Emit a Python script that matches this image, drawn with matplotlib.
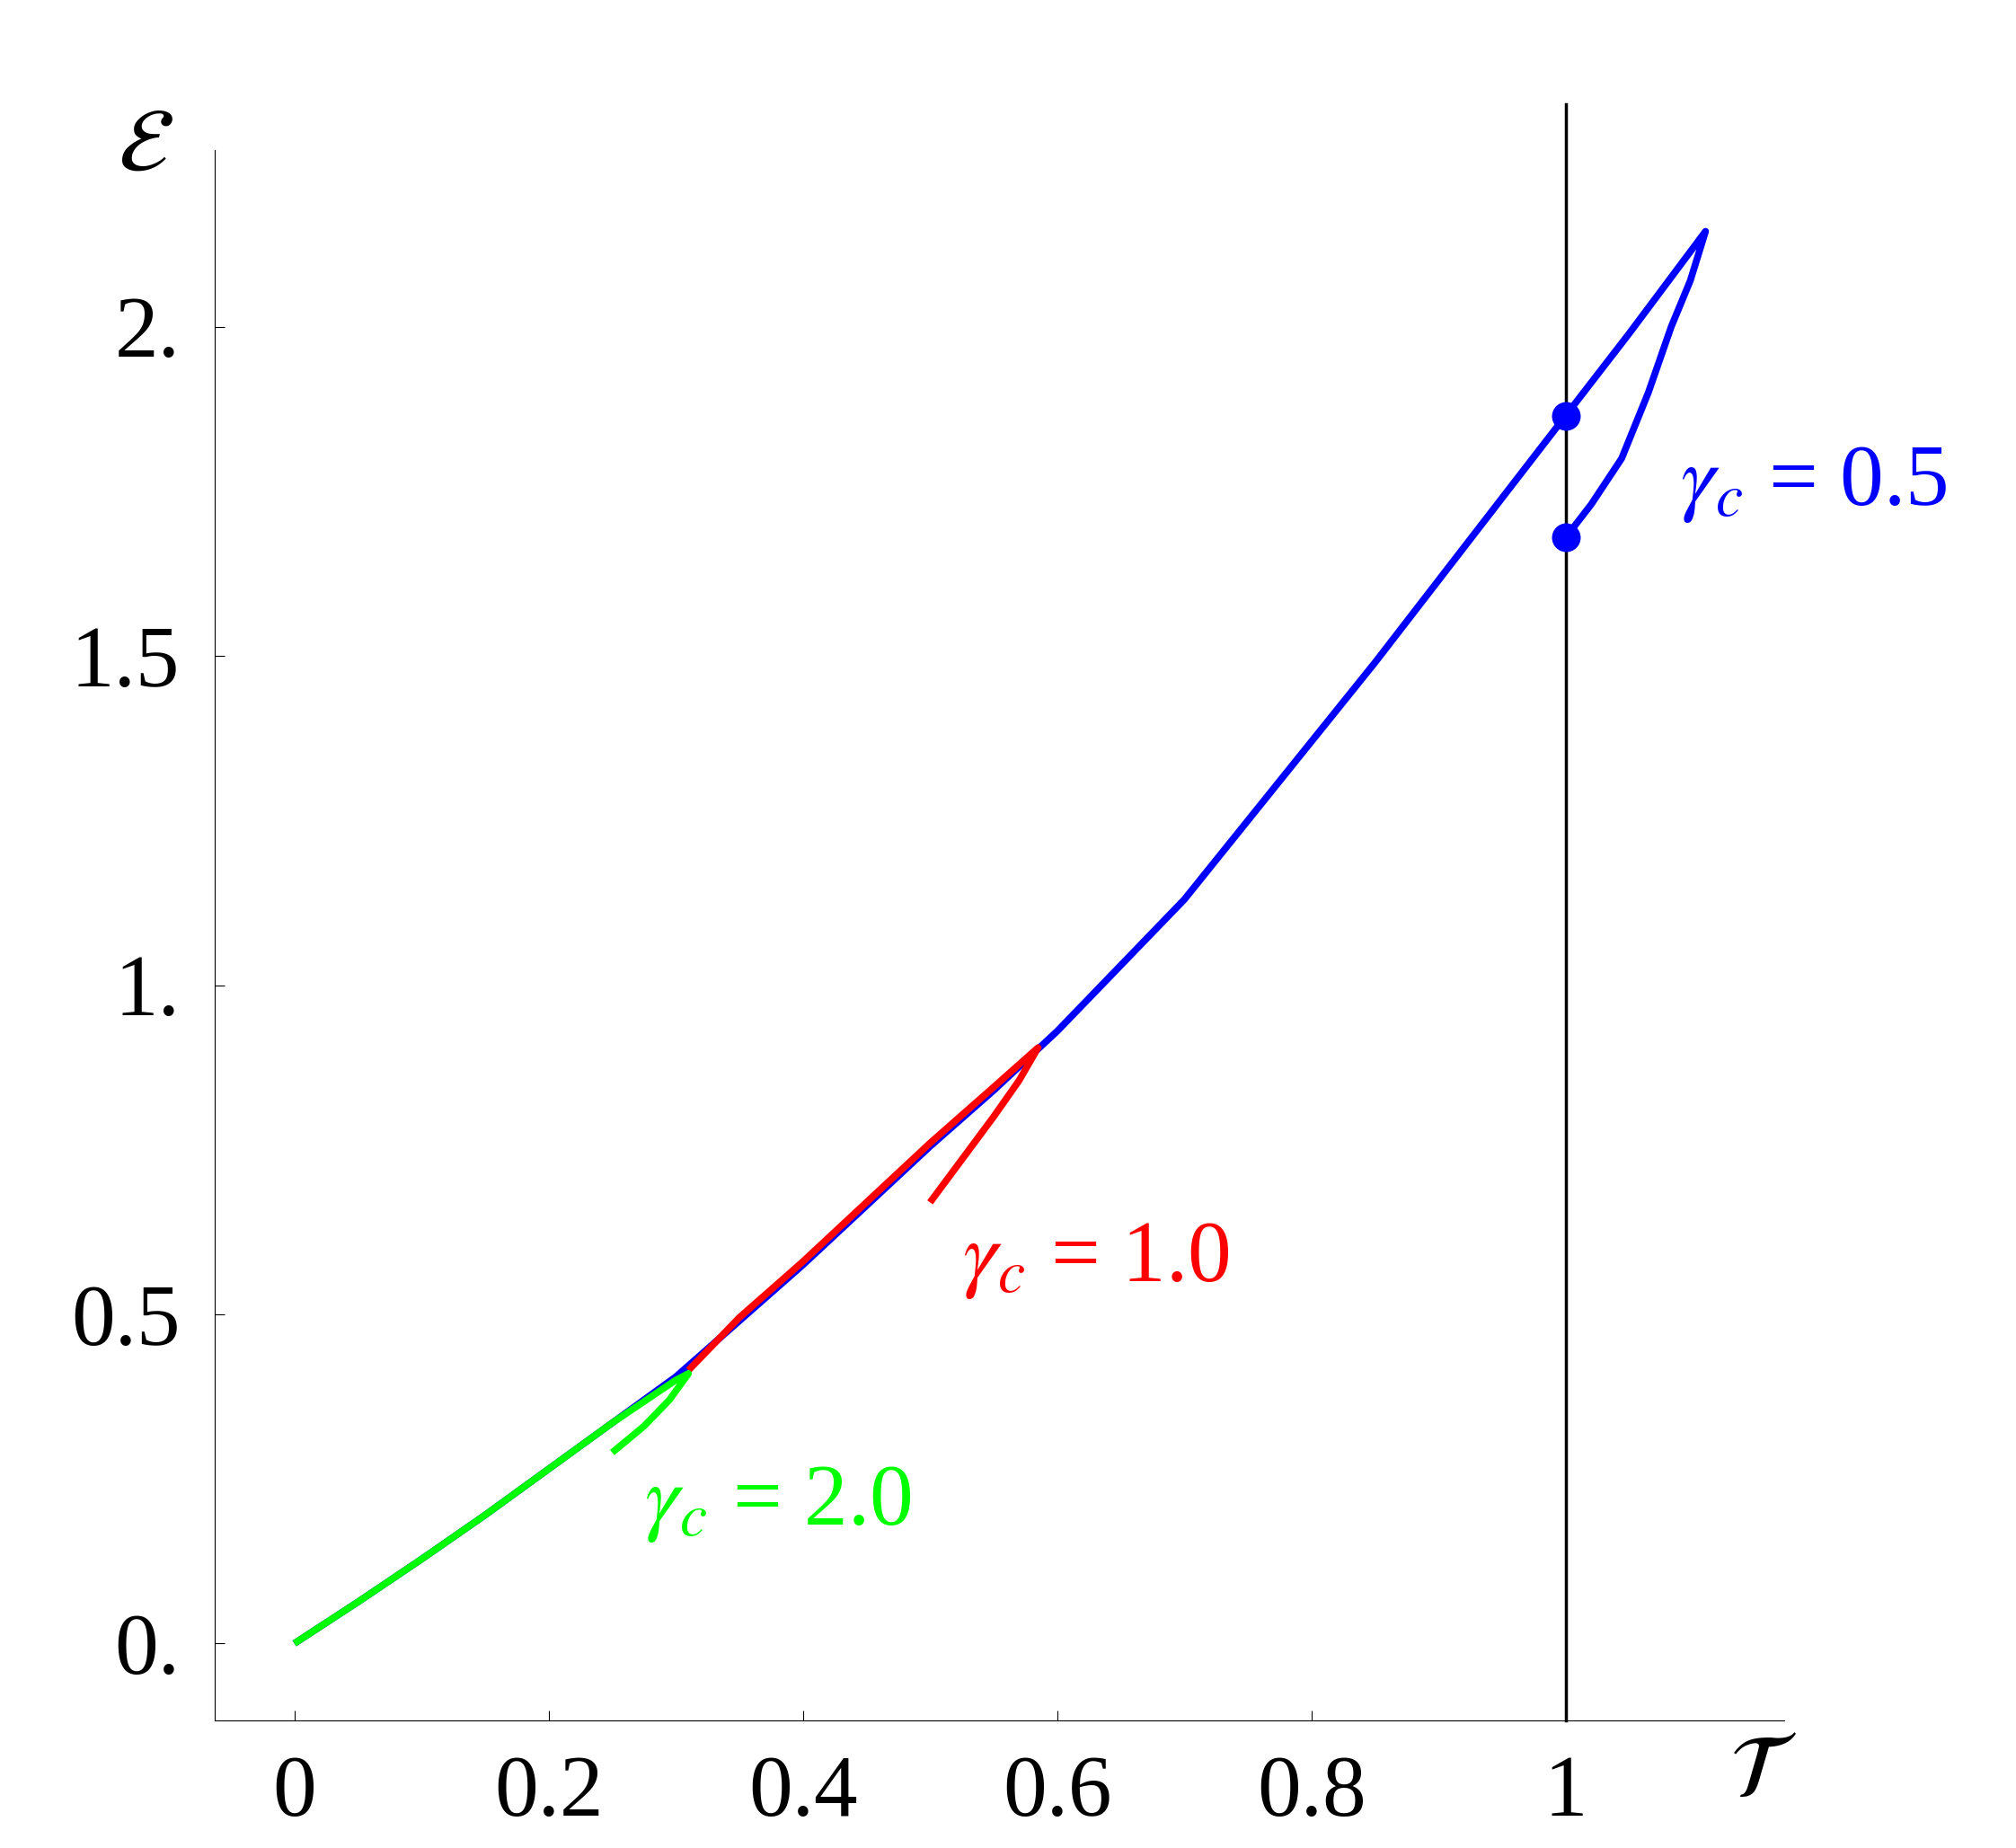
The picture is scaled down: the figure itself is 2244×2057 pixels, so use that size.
import matplotlib
matplotlib.use("Agg")
import matplotlib.pyplot as plt

plt.rcParams['mathtext.fontset'] = 'stix'
plt.rcParams['font.family'] = ['Liberation Serif', 'DejaVu Serif']

# upper branch (shared) and lower branches
blue_T = [0, 0.05, 0.1, 0.15, 0.2, 0.25, 0.3, 0.35, 0.4, 0.45, 0.5, 0.55, 0.6, 0.65, 0.7, 0.75,
          0.8, 0.85, 0.9, 0.95, 1.0, 1.05, 1.11, 1.098, 1.083, 1.065, 1.044, 1.02, 1.0]
blue_E = [0, 0.063, 0.128, 0.195, 0.265, 0.335, 0.405, 0.49, 0.575, 0.665, 0.755, 0.84, 0.93, 1.03,
          1.13, 1.25, 1.37, 1.49, 1.615, 1.74, 1.865, 1.99, 2.145, 2.07, 2.0, 1.9, 1.8, 1.73, 1.68]
red_T = [0.31, 0.35, 0.4, 0.45, 0.5, 0.55, 0.585, 0.57, 0.55, 0.525, 0.5]
red_E = [0.415, 0.495, 0.58, 0.67, 0.76, 0.845, 0.905, 0.855, 0.80, 0.735, 0.67]
green_T = [0, 0.05, 0.1, 0.15, 0.2, 0.25, 0.3, 0.31, 0.295, 0.275, 0.25]
green_E = [0, 0.063, 0.128, 0.195, 0.265, 0.335, 0.40, 0.41, 0.37, 0.33, 0.29]
dots_T = [1.0, 1.0]
dots_E = [1.865, 1.68]
xticks = [0, 0.2, 0.4, 0.6, 0.8, 1.0]
xlabels = ['0', '0.2', '0.4', '0.6', '0.8', '1']
yticks = [0, 0.5, 1.0, 1.5, 2.0]
ylabels = ['0.', '0.5', '1.', '1.5', '2.']

fig = plt.figure(figsize=(22.44, 20.57), dpi=100)
ax = fig.add_axes([0.1066, 0.069, 0.7785, 0.85])
ax.set_xlim(-0.0625, 1.172)
ax.set_ylim(-0.117, 2.269)

kw = dict(lw=5.5, solid_joinstyle='round', solid_capstyle='butt')
ax.plot(blue_T, blue_E, color='#0000ff', **kw)
ax.plot(red_T, red_E, color='#ff0000', **kw)
ax.plot(green_T, green_E, color='#00ff00', **kw)
ax.plot([1, 1], [-0.117, 2.338], color='black', lw=2.5, clip_on=False)
ax.plot(dots_T, dots_E, 'o', color='#0000ff', ms=22, clip_on=False)

ax.text(1.09, 1.73, r'$\gamma_c$ = 0.5', color='#0000ff', fontsize=70)
ax.text(0.525, 0.55, r'$\gamma_c$ = 1.0', color='#ff0000', fontsize=70)
ax.text(0.275, 0.18, r'$\gamma_c$ = 2.0', color='#00ff00', fontsize=70)

for s in ['top', 'right']:
    ax.spines[s].set_visible(False)
for s in ['left', 'bottom']:
    ax.spines[s].set_linewidth(0.8)
ax.set_xticks(xticks)
ax.set_xticklabels(xlabels)
ax.set_yticks(yticks)
ax.set_yticklabels(ylabels)
ax.tick_params(axis='x', direction='in', length=8, labelsize=70, pad=28)
ax.tick_params(axis='y', direction='in', length=8, labelsize=70, pad=28)
ax.text(1.155, -0.2, r'$\mathcal{T}$', fontsize=72, ha='center', va='center')
ax.text(-0.117, 2.27, r'$\mathcal{E}$', fontsize=72, ha='center', va='center')

fig.savefig('out.png', dpi=100)
